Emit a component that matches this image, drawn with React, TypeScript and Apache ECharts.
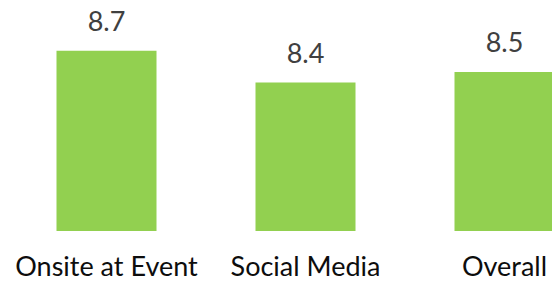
import React, { useEffect, useRef } from "react";
import * as echarts from "echarts";

const categories = ["Onsite at Event", "Social Media", "Overall"];
const values = [8.7, 8.4, 8.5];
const axisMin = 7;
const axisMax = 9;

export default function App() {
  const ref = useRef<HTMLDivElement>(null);
  useEffect(() => {
    if (!ref.current) return;
    const chart = echarts.init(ref.current, null, { renderer: "svg" });
    chart.setOption({
      animation: false,
      grid: { left: 7, right: -52, top: 19, bottom: 51, outerBoundsMode: "none", containLabel: false },
      xAxis: {
        type: "category",
        data: categories,
        axisLine: { show: false },
        axisTick: { show: false },
        axisLabel: {
          color: "#0d0d0d",
          fontFamily: "Lato",
          fontSize: 27,
          lineHeight: 24,
          margin: 22,
          interval: 0,
        },
      },
      yAxis: {
        type: "value",
        min: axisMin,
        max: axisMax,
        show: false,
        splitLine: { show: false },
      },
      series: [
        {
          type: "bar",
          data: values,
          barWidth: 100,
          itemStyle: { color: "#92D050" },
          label: {
            show: true,
            position: "top",
            distance: 17,
            color: "#404040",
            fontFamily: "Lato",
            fontSize: 27,
            formatter: (p: any) => p.value.toFixed(1),
          },
        },
      ],
    });
    return () => chart.dispose();
  }, []);
  return (
    <div
      ref={ref}
      style={{ position: "fixed", left: 0, top: 0, width: 552, height: 282, background: "#fff" }}
    />
  );
}
